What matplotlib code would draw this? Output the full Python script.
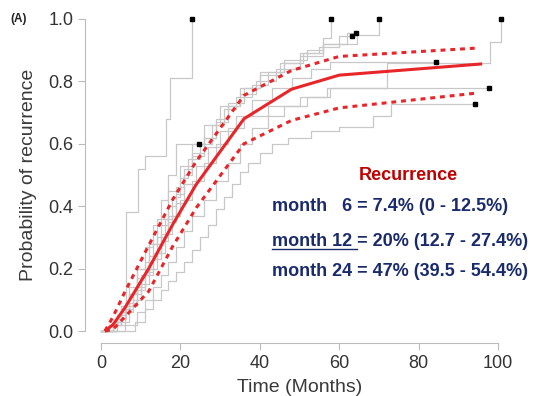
import matplotlib
matplotlib.use("Agg")
import matplotlib.pyplot as plt

plt.rcParams['font.family'] = ['Liberation Sans', 'DejaVu Sans']

# pooled estimate and 95% band (months, probability)
months = [1, 3, 6, 12, 18, 24, 36, 48, 60, 96]
recur = [0.0, 0.02, 0.074, 0.20, 0.34, 0.47, 0.68, 0.775, 0.82, 0.856]
band_t = [1, 3, 6, 12, 18, 24, 36, 48, 60, 95]
upper = [0.0, 0.045, 0.125, 0.274, 0.42, 0.544, 0.755, 0.835, 0.88, 0.907]
lower = [0.0, 0.005, 0.045, 0.127, 0.27, 0.395, 0.6, 0.675, 0.715, 0.763]

# individual study curves: step times, cumulative probability, last follow-up
studies = [
    ([0, 4, 6.3, 9.3, 11, 16.3, 17.4, 22.8],
     [0, 0.04, 0.38, 0.52, 0.56, 0.68, 0.81, 1.0], 22.8),
    ([0, 3, 5, 7, 9, 11, 13, 15, 17, 19],
     [0, 0.03, 0.08, 0.14, 0.2, 0.27, 0.34, 0.42, 0.5, 0.6], 24.7),
    ([0, 2, 5, 7, 9, 12, 14, 17, 20, 23, 26, 30, 35, 40, 46, 52, 56, 58],
     [0, 0.02, 0.06, 0.12, 0.2, 0.28, 0.36, 0.45, 0.53, 0.6, 0.66, 0.72, 0.78, 0.83, 0.87, 0.9, 0.94, 1.0], 58),
    ([0, 2, 4, 6, 9, 11, 13, 15, 17, 19, 21, 23, 26, 29, 32, 36, 40, 45, 50, 55, 60],
     [0, 0.02, 0.05, 0.09, 0.14, 0.19, 0.25, 0.31, 0.37, 0.44, 0.5, 0.56, 0.62, 0.68, 0.73, 0.78, 0.82, 0.86, 0.89, 0.91, 0.945], 63.2),
    ([0, 3, 5, 8, 10, 12, 14, 16, 18, 20, 22, 25, 28, 31, 34, 38, 42, 46, 51, 56, 62],
     [0, 0.03, 0.07, 0.12, 0.18, 0.24, 0.3, 0.36, 0.43, 0.49, 0.55, 0.6, 0.66, 0.71, 0.75, 0.79, 0.83, 0.86, 0.89, 0.92, 0.955], 64.2),
    ([0, 2, 5, 7, 9, 11, 13, 15, 17, 19, 21, 23, 26, 29, 32, 35, 39, 44, 50, 56, 64.5, 70],
     [0, 0.02, 0.07, 0.12, 0.17, 0.22, 0.28, 0.34, 0.4, 0.46, 0.52, 0.57, 0.62, 0.67, 0.72, 0.76, 0.8, 0.84, 0.88, 0.92, 0.95, 1.0], 70),
    ([0, 4, 7, 9, 11, 13, 15, 17, 19, 21, 24, 27, 30, 34, 38, 43, 48, 53, 57.7],
     [0, 0.03, 0.08, 0.13, 0.18, 0.23, 0.29, 0.35, 0.41, 0.47, 0.53, 0.59, 0.64, 0.69, 0.74, 0.78, 0.81, 0.84, 0.862], 84.4),
    ([0, 3, 6, 8, 10, 12, 14, 16, 18, 20, 23, 26, 29, 32, 36, 42, 50, 57, 72, 98, 100.8],
     [0, 0.02, 0.06, 0.1, 0.15, 0.2, 0.25, 0.31, 0.37, 0.42, 0.48, 0.54, 0.6, 0.65, 0.69, 0.72, 0.75, 0.78, 0.86, 0.926, 1.0], 100.8),
    ([0, 6, 9, 11, 13, 15, 17, 19, 21, 23, 26, 29, 32, 35, 38, 42, 46, 52, 57.7],
     [0, 0.02, 0.06, 0.1, 0.14, 0.18, 0.22, 0.27, 0.32, 0.37, 0.42, 0.48, 0.54, 0.6, 0.65, 0.69, 0.72, 0.75, 0.78], 97.7),
    ([0, 8.5, 11, 13, 15, 17, 19, 21, 23, 25, 27, 29, 31, 33, 35, 37, 40, 43, 47, 53, 60, 68.5, 73],
     [0, 0.03, 0.07, 0.1, 0.13, 0.16, 0.19, 0.22, 0.26, 0.3, 0.34, 0.39, 0.43, 0.47, 0.51, 0.54, 0.57, 0.6, 0.62, 0.64, 0.655, 0.69, 0.728], 94.2),
]

lines_txt = ["month   6 = 7.4% (0 - 12.5%)",
             "month 12 = 20% (12.7 - 27.4%)",
             "month 24 = 47% (39.5 - 54.4%)"]

fig = plt.figure(figsize=(5.37, 3.96), dpi=100)
ax = fig.add_axes([0.1585, 0.1326, 0.7985, 0.851])

for t, p, last in studies:
    ax.step(t + [last], p + [p[-1]], where='post', color='#c8c8c8', lw=0.9, zorder=1)
    ax.plot(last, p[-1], 's', color='black', ms=2.2, zorder=4)

red = '#e8262a'
ax.plot(months, recur, color=red, lw=2.2, zorder=3, solid_capstyle='butt')
ax.plot(band_t, upper, color=red, lw=2.2, ls=(0, (1.6, 1.6)), zorder=3)
ax.plot(band_t, lower, color=red, lw=2.2, ls=(0, (1.6, 1.6)), zorder=3)

ax.set_xlim(-4, 104)
ax.set_ylim(-0.04, 1.04)
for s in ['top', 'right']:
    ax.spines[s].set_visible(False)
ax.spines['left'].set_bounds(0, 1)
ax.spines['bottom'].set_bounds(0, 100)
for s in ['left', 'bottom']:
    ax.spines[s].set_color('#bbbbbb')
ax.set_xticks([0, 20, 40, 60, 80, 100])
ax.set_yticks([0, 0.2, 0.4, 0.6, 0.8, 1.0])
ax.set_yticklabels(['0.0', '0.2', '0.4', '0.6', '0.8', '1.0'])
ax.tick_params(colors='#bbbbbb', labelcolor='#333333', labelsize=13, length=5)
ax.set_xlabel('Time (Months)', fontsize=14, color='#3a3a3a', labelpad=5)
ax.set_ylabel('Probability of recurrence', fontsize=14, color='#3a3a3a', labelpad=8)

fig.text(0.019, 0.952, '(A)', fontsize=8.5, fontweight='bold', color='#222222', va='center')

ax.text(77.3, 0.497, 'Recurrence', color='#c00000', fontsize=13, fontweight='bold',
        ha='center', va='center')
navy = '#1a2b6d'
ys = [0.40, 0.288, 0.192]
for s, y in zip(lines_txt, ys):
    ax.text(43.1, y, s, color=navy, fontsize=13, fontweight='bold', va='center', ha='left')

# underline "month 12 "
fig.canvas.draw()
probe = ax.text(43.1, ys[1], 'month 12 ', fontsize=13, fontweight='bold', va='center',
                ha='left', alpha=0)
bb = probe.get_window_extent(fig.canvas.get_renderer())
inv = ax.transData.inverted()
x0, y0 = inv.transform((bb.x0, bb.y0))
x1, _ = inv.transform((bb.x1, bb.y0))
ax.plot([x0, x1], [y0 + 0.003, y0 + 0.003], color=navy, lw=1.0, clip_on=False)
probe.remove()

fig.savefig('out.png', dpi=100)
